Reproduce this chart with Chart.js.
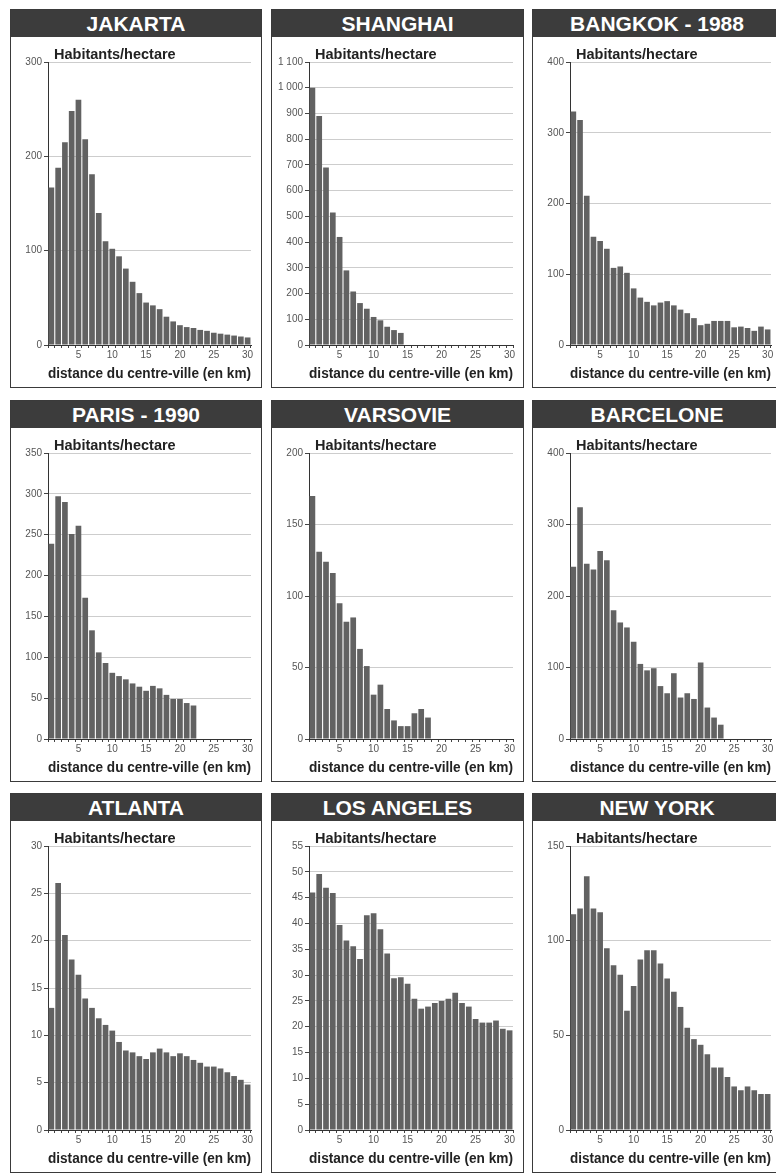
<!DOCTYPE html>
<html><head><meta charset="utf-8">
<script src="https://cdn.jsdelivr.net/npm/chart.js@4.4.1/dist/chart.umd.min.js"></script>
<style>
html,body{margin:0;padding:0;background:#fff;}
body{width:776px;height:1175px;overflow:hidden;position:relative;font-family:"Liberation Sans",Arial,sans-serif;}
.panel{position:absolute;border:1.5px solid #3a3a3a;box-sizing:border-box;background:#fff;}
.ttl{position:absolute;left:0;right:0;top:0;height:27px;background:#3c3c3c;color:#fff;font-weight:bold;font-size:21px;text-align:center;line-height:28px;}
.panel canvas{position:absolute;left:0;top:27px;}
</style>
</head><body>
<script>
// ---- data (habitants / hectare by distance from city centre, km) ----
const distances = ['1','2','3','4','5','6','7','8','9','10','11','12','13','14','15','16','17','18','19','20','21','22','23','24','25','26','27','28','29','30'];
const cityNames = ['JAKARTA','SHANGHAI','BANGKOK - 1988','PARIS - 1990','VARSOVIE','BARCELONE','ATLANTA','LOS ANGELES','NEW YORK'];
const yAxisLabel = 'Habitants/hectare';
const xAxisLabel = 'distance du centre-ville (en km)';

const jakarta   = [167,188,215,248,260,218,181,140,110,102,94,81,67,55,45,42,38,30,25,21,19,18,16,15,13,12,11,10,9,8];
const shanghai  = [1000,890,690,515,420,290,208,163,141,109,96,71,58,47];
const bangkok   = [330,318,211,153,147,136,109,111,102,80,67,61,56,60,62,56,50,45,38,28,30,34,34,34,25,26,24,20,26,22];
const paris     = [239,297,290,251,261,173,133,106,93,81,77,73,68,64,59,65,62,54,49,49,44,41];
const varsovie  = [170,131,124,116,95,82,85,63,51,31,38,21,13,9,9,18,21,15];
const barcelone = [241,324,245,237,263,250,180,163,156,136,105,96,99,74,64,92,58,64,56,107,44,30,20];
const atlanta   = [12.9,26.1,20.6,18.0,16.4,13.9,12.9,11.8,11.1,10.5,9.3,8.4,8.2,7.8,7.5,8.2,8.6,8.2,7.8,8.1,7.8,7.4,7.1,6.7,6.7,6.5,6.1,5.7,5.3,4.8];
const losAngeles= [46.0,49.6,46.9,45.9,39.7,36.7,35.6,33.1,41.6,42.0,38.9,34.2,29.4,29.6,28.3,25.4,23.5,23.9,24.6,25.0,25.4,26.6,24.6,23.9,21.5,20.8,20.8,21.2,19.6,19.3];
const newYork   = [114,117,134,117,115,96,87,82,63,76,90,95,95,88,80,73,65,54,48,45,40,33,33,28,23,21,23,21,19,19];

const yMax  = [300,1100,400,350,200,400,30,55,150];
const yStep = [100,100,100,50,50,100,5,5,50];
const series = [jakarta,shanghai,bangkok,paris,varsovie,barcelone,atlanta,losAngeles,newYork];

// ---- layout ----
const colLeft = [10,271,532], colW = [252,253,250];
const rowTop = [9,400,793], rowH = [379,382,380];
const FONT = '"Liberation Sans", Arial, sans-serif';

function fmt(v){
  const s = String(v);
  return v >= 1000 ? s.slice(0, s.length-3) + ' ' + s.slice(-3) : s;
}

const labelPlugin = {
  id:'ylabel',
  afterDraw(chart){
    const ctx = chart.ctx, a = chart.chartArea;
    ctx.save();
    ctx.font = 'bold 14.5px ' + FONT;
    ctx.fillStyle = '#222';
    ctx.textBaseline = 'alphabetic';
    ctx.fillText(yAxisLabel, a.left + 6, a.top - 3);
    ctx.restore();
  }
};

series.forEach((vals, i) => {
  const r = Math.floor(i/3), c = i%3;
  const panel = document.createElement('div');
  panel.className = 'panel';
  panel.style.left = colLeft[c] + 'px';
  panel.style.top = rowTop[r] + 'px';
  panel.style.width = colW[c] + 'px';
  panel.style.height = rowH[r] + 'px';
  const t = document.createElement('div');
  t.className = 'ttl';
  t.textContent = cityNames[i];
  panel.appendChild(t);
  const cv = document.createElement('canvas');
  const cw = colW[c] - 3, ch = rowH[r] - 3 - 27;
  cv.width = cw; cv.height = ch;
  cv.style.width = cw + 'px'; cv.style.height = ch + 'px';
  panel.appendChild(cv);
  document.body.appendChild(panel);

  new Chart(cv, {
    type:'bar',
    data:{
      labels: distances,
      datasets:[{data: vals, backgroundColor:'#626262', borderWidth:0, barPercentage:0.84, categoryPercentage:1.0}]
    },
    options:{
      responsive:false, animation:false, devicePixelRatio:1,
      layout:{padding:{top:25,right:9,left:0,bottom:0}},
      plugins:{legend:{display:false}, tooltip:{enabled:false}},
      scales:{
        x:{
          afterFit(s){ s.height = 41; },
          grid:{display:true, drawOnChartArea:false, drawTicks:true, tickLength:3, tickColor:'#444'},
          border:{display:true, color:'#333', width:1},
          ticks:{autoSkip:false, maxRotation:0, padding:1, color:'#555',
                 font:{size:10, family:FONT},
                 callback(v, idx){ return (idx+1)%5===0 ? distances[idx] : ''; }},
          title:{display:true, text:xAxisLabel, color:'#222', padding:{top:0,bottom:3},
                 font:{size:14.5, weight:'bold', family:FONT}}
        },
        y:{
          min:0, max:yMax[i],
          afterFit(s){ s.width = 37; },
          grid:{color:'#cdcdcd', lineWidth:1, borderDash:[5,3], drawTicks:true, tickLength:4, tickColor:'#444', tickBorderDash:[]},
          border:{display:true, color:'#333', width:1},
          ticks:{stepSize:yStep[i], padding:2, color:'#555',
                 font:{size:10, family:FONT},
                 callback(v){ return fmt(v); }}
        }
      }
    },
    plugins:[labelPlugin]
  });
});
</script>
</body></html>
